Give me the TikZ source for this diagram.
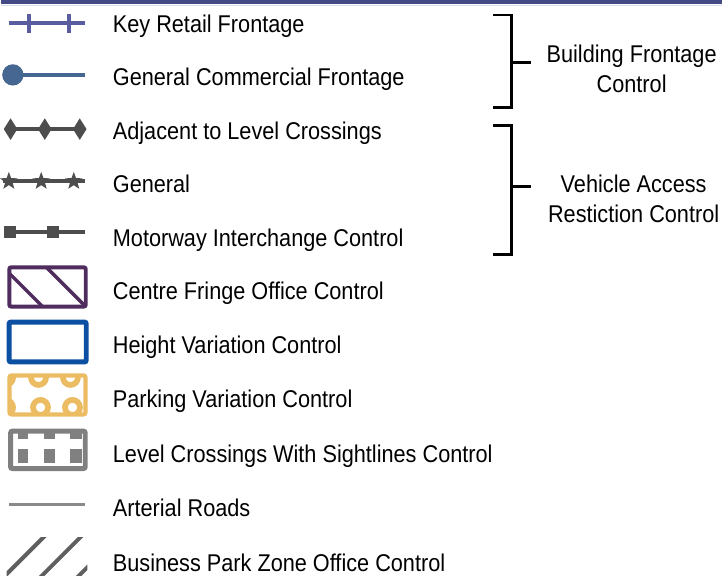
\documentclass[tikz,border=0pt]{standalone}
\usepackage{fontspec}
\setmainfont{Liberation Sans}[FakeStretch=0.895]
\usetikzlibrary{shapes.geometric}

\definecolor{barblue}{RGB}{67,74,134}
\definecolor{barline}{RGB}{214,222,232}
\definecolor{retail}{RGB}{90,92,160}
\definecolor{commercial}{RGB}{70,103,145}
\definecolor{access}{RGB}{77,77,77}
\definecolor{fringe}{RGB}{79,45,95}
\definecolor{heightblue}{RGB}{11,79,163}
\definecolor{parking}{RGB}{236,188,99}
\definecolor{crossing}{RGB}{128,128,128}
\definecolor{arterial}{RGB}{138,138,138}
\definecolor{bizpark}{RGB}{95,95,95}

\tikzset{every picture/.style={line width=0.75pt}}
\tikzset{
legend text/.style={anchor=base west, inner sep=0pt, font=\fontsize{18.2}{22.5}\selectfont},
group text/.style={anchor=base, inner sep=0pt, font=\fontsize{18.2}{22.5}\selectfont},
icon line/.style={line width=2.8pt},
bracket line/.style={line width=2.2pt, black},
box outline/.style={rounded corners=1.5pt}}

\begin{document}
\begin{tikzpicture}[x=0.75pt,y=0.75pt,yscale=-1,xscale=1]
\path (0,0) rectangle (722,576); %set diagram size

%Shape: Rectangle [top bar]
\fill [barblue] (0,0) rectangle (722,4.3) ;
\draw [barline] (0,5.2) -- (722,5.2) ;

%Straight Lines [key retail]
\draw [retail, icon line] (8,23.3) -- (85,23.3) ;
\draw [retail, icon line] (28.3,14) -- (28.3,33) ;
\draw [retail, icon line] (68.3,14) -- (68.3,33) ;
%Straight Lines [general commercial]
\draw [commercial, icon line] (12.3,75) -- (85,75) ;
\node (gcdot) [circle, fill=commercial, inner sep=0pt, minimum size=16pt] at (12.3,75) {};
%Straight Lines [adjacent to level crossings]
\draw [access, icon line] (5,129.3) -- (85,129.3) ;
\foreach \px [count=\i] in {10,44.3,79.3}
  \node (adj\i) [diamond, fill=access, inner sep=0pt, minimum width=10.5pt, minimum height=16.5pt] at (\px,129.3) {};
%Straight Lines [general]
\draw [access, icon line] (2,181.5) -- (85,181.5) ;
\foreach \px [count=\i] in {8.3,40.7,73.3}
  \node (gen\i) [star, star points=5, star point ratio=2.4, fill=access, inner sep=0pt, minimum size=14pt] at (\px,181.5) {};
%Straight Lines [motorway interchange]
\draw [access, icon line] (4,232.5) -- (85,232.5) ;
\foreach \px [count=\i] in {9.7,52.5}
  \node (mwy\i) [rectangle, fill=access, inner sep=0pt, minimum size=9pt] at (\px,232.5) {};

%Shape: Rectangle [centre fringe office]
\begin{scope}
\clip (8.7,267.7) rectangle (85.3,307) ;
\draw [fringe, line width=2.6pt] (0,265) -- (100,365) ;
\draw [fringe, line width=2.6pt] (0,221.7) -- (100,321.7) ;
\end{scope}
\draw [fringe, box outline, line width=3pt] (8.7,267.7) rectangle (85.3,307) ;
%Shape: Rectangle [height variation]
\draw [heightblue, box outline, line width=3.75pt] (8.5,322.5) rectangle (85.8,362.5) ;
%Shape: Rectangle [parking variation]
\begin{scope}
\clip (9,376) rectangle (85,415) ;
\foreach \cx/\cy in {5/378,38/378,70/378,5/408,40/408,72/408}
  \draw [parking, line width=4.3pt] (\cx,\cy) circle [radius=7.5] ;
\end{scope}
\draw [parking, box outline, line width=3.2pt] (9,376) rectangle (85,415) ;
%Shape: Rectangle [level crossings sightlines]
\foreach \ax/\bx in {17/27,43/55,70/81.5} {
  \fill [crossing] (\ax,432) rectangle (\bx,440) ;
  \fill [crossing] (\ax,450) rectangle (\bx,464) ;
}
\draw [crossing, box outline, line width=3.75pt] (10,431.7) rectangle (84.8,469.3) ;
%Straight Lines [arterial roads]
\draw [arterial, line width=2.2pt] (8.3,505.5) -- (85,505.5) ;
%Shape: Hatch [business park zone]
\begin{scope}
\clip (6,538) rectangle (87,576) ;
\foreach \k in {581,618,655}
  \draw [bizpark, line width=3pt] (\k-530,530) -- (\k-590,590) ;
\end{scope}

% Text Node
\node (krf) [legend text] at (112,33) {Key Retail Frontage};
\node (gcf) [legend text] at (112,86) {General Commercial Frontage};
\node (alc) [legend text] at (112,140) {Adjacent to Level Crossings};
\node (gen) [legend text] at (112,193) {General};
\node (mic) [legend text] at (112,246.5) {Motorway Interchange Control};
\node (cfo) [legend text] at (112,300) {Centre Fringe Office Control};
\node (hvc) [legend text] at (112,354) {Height Variation Control};
\node (pvc) [legend text] at (112,408) {Parking Variation Control};
\node (lcs) [legend text] at (112,463) {Level Crossings With Sightlines Control};
\node (art) [legend text] at (112,517) {Arterial Roads};
\node (bpz) [legend text] at (112,572) {Business Park Zone Office Control};

%Shape: Bracket [building frontage]
\draw [bracket line] (493,15) -- (512,15) -- (512,108) -- (493,108) ;
\coordinate (bftip) at (531,63) ;
\draw [bracket line] (512,63) -- (bftip) ;
\node (bft1) [group text] at (632,63) {Building Frontage};
\node (bft2) [group text] at (632,93) {Control};
%Shape: Bracket [vehicle access]
\draw [bracket line] (493,126) -- (512,126) -- (512,255) -- (493,255) ;
\coordinate (vatip) at (531,187) ;
\draw [bracket line] (512,187) -- (vatip) ;
\node (vat1) [group text] at (634,193) {Vehicle Access};
\node (vat2) [group text] at (634,223) {Restiction Control};

\end{tikzpicture}
\end{document}
